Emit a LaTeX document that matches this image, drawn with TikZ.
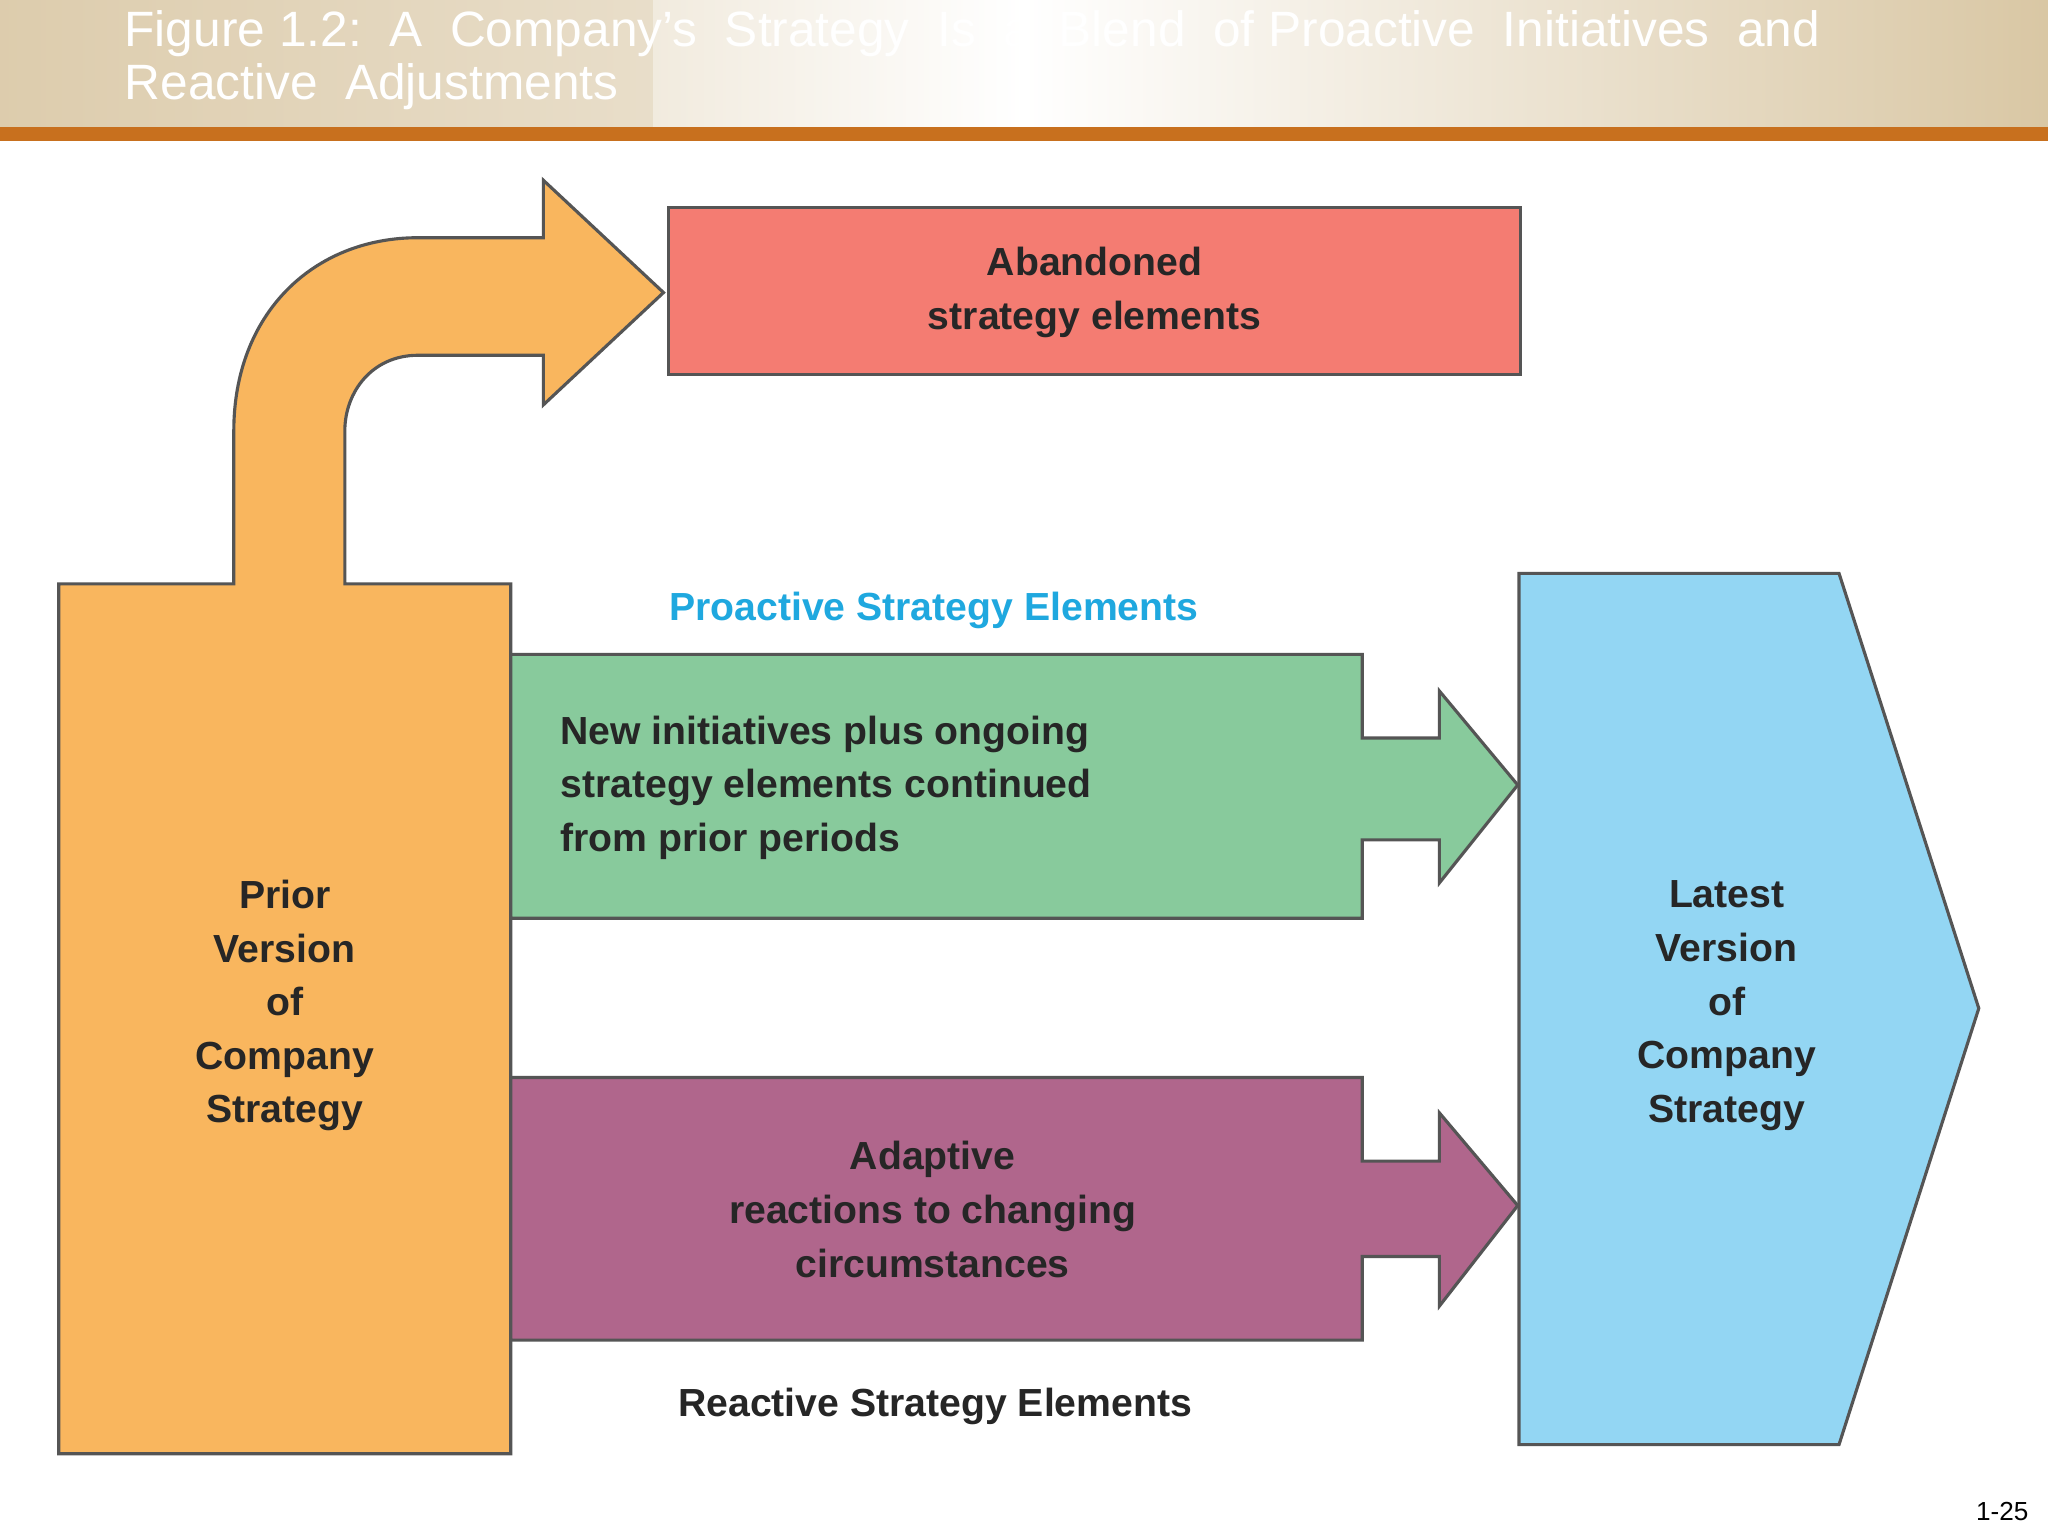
\documentclass[tikz,border=0pt]{standalone}
\usepackage{fontspec}
\setmainfont{Liberation Sans}
\usetikzlibrary{shadings}
\definecolor{orng}{HTML}{F9B65E}
\definecolor{redb}{HTML}{F47C72}
\definecolor{grn}{HTML}{88CA9C}
\definecolor{purp}{HTML}{B0668C}
\definecolor{blu}{HTML}{93D6F3}
\definecolor{cyant}{HTML}{1FA8DF}
\definecolor{band}{HTML}{D9C7A4}
\definecolor{bar}{HTML}{C8701E}
\definecolor{edge}{HTML}{555555}
\begin{document}
\begin{tikzpicture}[x=0.5pt,y=-0.5pt,
  shp/.style={draw=edge,line width=1.2pt},
  lbl/.style={font=\fontsize{15}{20.5}\selectfont\bfseries,text=black!85,align=center}]
\useasboundingbox (0,0) rectangle (1568,1176);
\fill[white] (0,0) rectangle (1568,1176);
% header
\shade[left color=band,right color=band,middle color=white] (0,0) rectangle (1568,97);
\fill[band!80!white,opacity=0.5] (0,0) rectangle (500,97);
\fill[bar] (0,97) rectangle (1568,108);
\node[anchor=north west,text=white,font=\fontsize{19}{20}\selectfont,align=left,inner sep=0] (title) at (95,8)
 {Figure 1.2:\ \ A\ \ Company’s\ \ Strategy\ \ Is\ \ a\ \ Blend\ \ of Proactive\ \ Initiatives\ \ and\\Reactive\ \ Adjustments};
% orange
\filldraw[shp,fill=orng] (45,447) -- (179,447) -- (179,330) .. controls (179,240) and (240,182) .. (320,182)
 -- (416,182) -- (416,138) -- (508,224) -- (416,310) -- (416,272) -- (320,272)
 .. controls (285,272) and (264,300) .. (264,330) -- (264,447) -- (391,447) -- (391,1113) -- (45,1113) -- cycle;
\node[lbl] (prior) at (218,770) {Prior\\Version\\of\\Company\\Strategy};
% red
\filldraw[shp,fill=redb] (512,159) rectangle (1164,287);
\node[lbl] (aband) at (838,224) {Abandoned\\strategy elements};
% green
\filldraw[shp,fill=grn] (391,501) -- (1043,501) -- (1043,565) -- (1102,565) -- (1102,529) -- (1162,601)
 -- (1102,676) -- (1102,643) -- (1043,643) -- (1043,703) -- (391,703) -- cycle;
\node[lbl,align=left,anchor=west] (newi) at (422,603) {New initiatives plus ongoing\\strategy elements continued\\from prior periods};
% purple
\filldraw[shp,fill=purp] (391,825) -- (1043,825) -- (1043,889) -- (1102,889) -- (1102,852) -- (1162,923)
 -- (1102,1000) -- (1102,962) -- (1043,962) -- (1043,1026) -- (391,1026) -- cycle;
\node[lbl] (adapt) at (714,926) {Adaptive\\reactions to changing\\circumstances};
% blue
\filldraw[shp,fill=blu] (1163,439) -- (1408,439) -- (1515,772) -- (1408,1106) -- (1163,1106) -- cycle;
\node[lbl] (latest) at (1322,770) {Latest\\Version\\of\\Company\\Strategy};
% labels
\node[lbl,text=cyant] (pro) at (715,467) {Proactive Strategy Elements};
\node[lbl] (rea) at (716,1077) {Reactive Strategy Elements};
\node[font=\fontsize{10}{12}\selectfont] (pg) at (1533,1157) {1-25};
\end{tikzpicture}
\end{document}
